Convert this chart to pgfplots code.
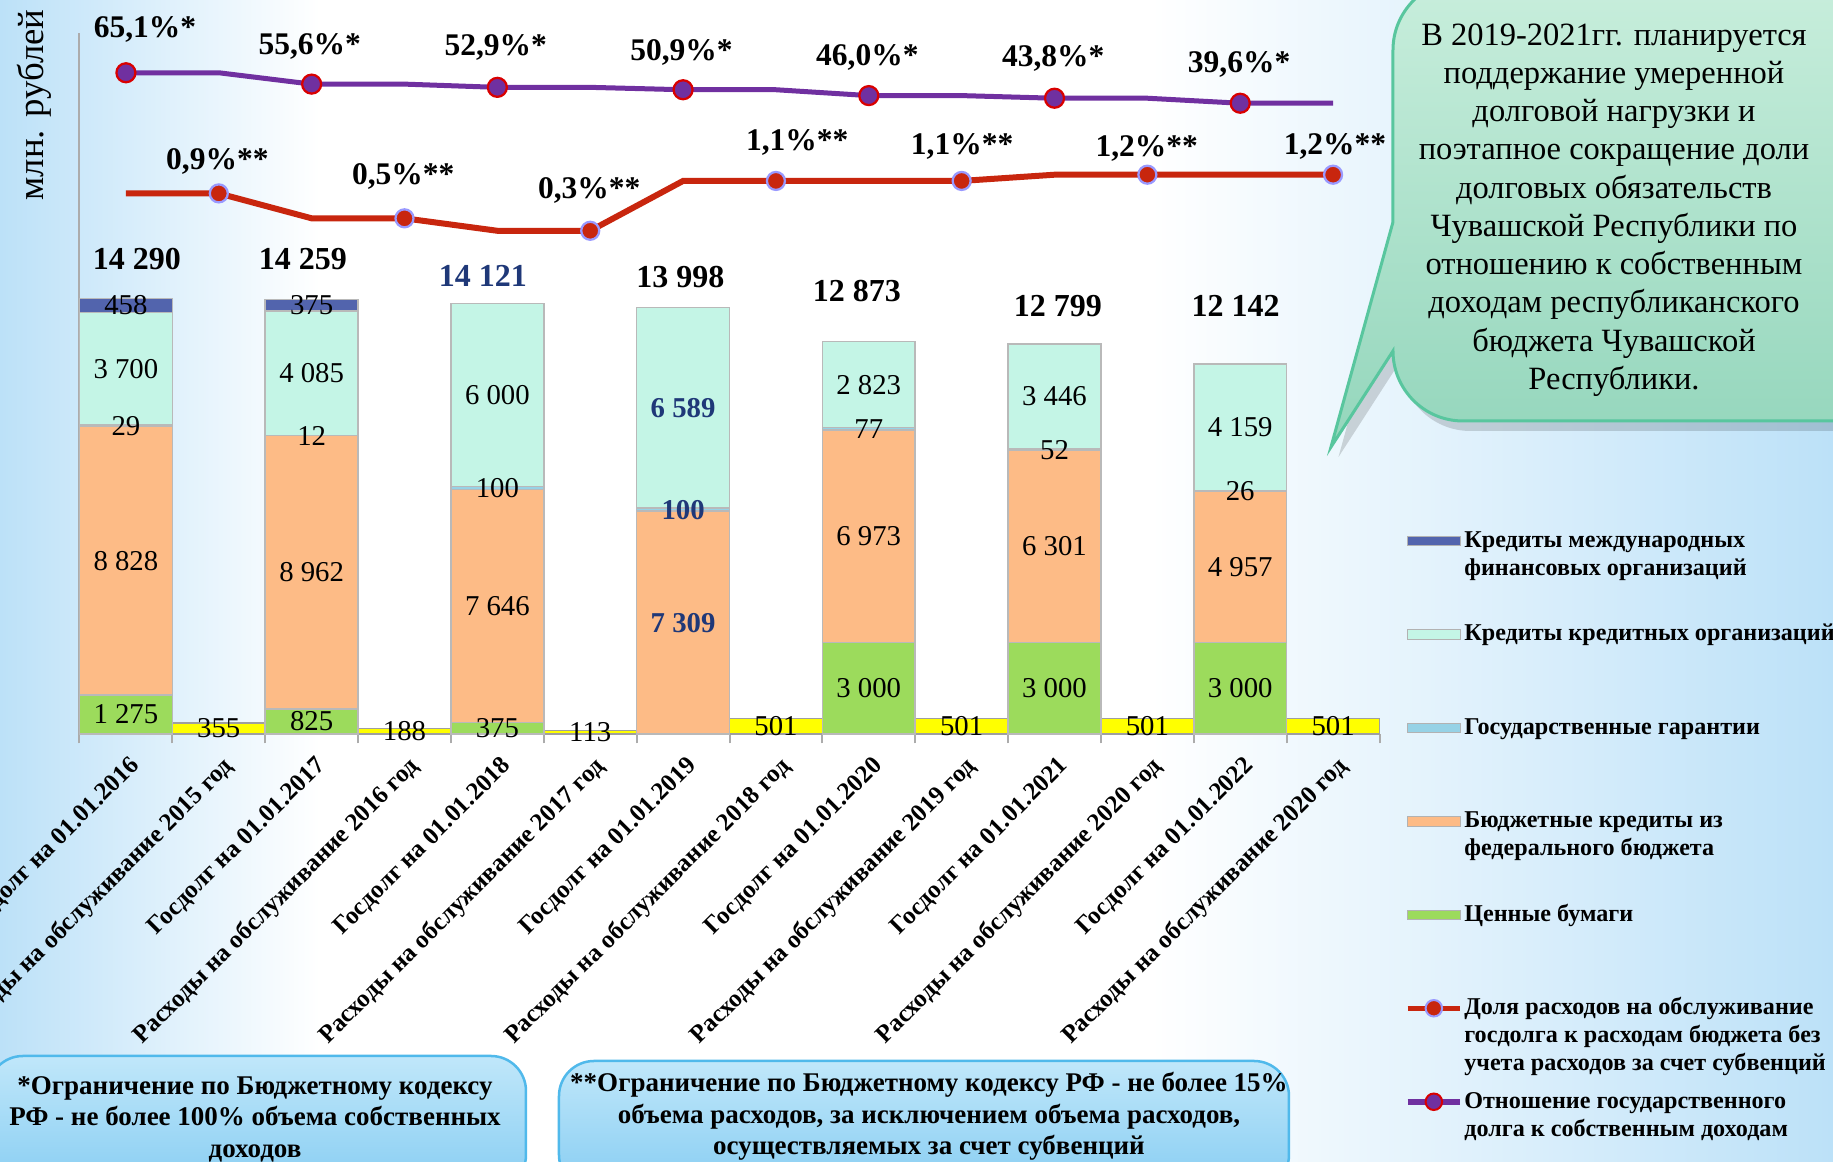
\documentclass[border=0pt]{standalone}
\usepackage{pgfplots}
\usepackage{pgfplotstable}
\pgfplotsset{compat=1.18}
\usepackage{fontspec}
\setmainfont{Liberation Serif}

\definecolor{cGreen}{RGB}{156,219,92}
\definecolor{cOrange}{RGB}{253,187,134}
\definecolor{cGuar}{RGB}{150,210,230}
\definecolor{cTeal}{RGB}{196,245,230}
\definecolor{cIntl}{RGB}{82,100,173}
\definecolor{cYellow}{RGB}{255,255,0}
\definecolor{cRed}{RGB}{200,38,14}
\definecolor{cPurple}{RGB}{112,48,160}
\definecolor{cNavy}{RGB}{31,56,120}
\definecolor{bgBlue}{RGB}{188,225,248}
\definecolor{callTop}{RGB}{200,238,220}
\definecolor{callBot}{RGB}{148,214,188}
\definecolor{callEdge}{RGB}{88,198,158}
\definecolor{noteTop}{RGB}{192,231,250}
\definecolor{noteBot}{RGB}{135,205,242}
\definecolor{noteEdge}{RGB}{80,185,235}

% debt structure (mln rub): even x = Госдолг, odd x = Расходы на обслуживание
\pgfplotstableread{
x  sb   bk   gg   ko   mf   rs
0  1275 8828 29   3700 458  0
1  0    0    0    0    0    355
2  825  8962 12   4085 375  0
3  0    0    0    0    0    188
4  375  7646 100  6000 0    0
5  0    0    0    0    0    113
6  0    7309 100  6589 0    0
7  0    0    0    0    0    501
8  3000 6973 77   2823 0    0
9  0    0    0    0    0    501
10 3000 6301 52   3446 0    0
11 0    0    0    0    0    501
12 3000 4957 26   4159 0    0
13 0    0    0    0    0    501
}\debt

% ratios, %
\pgfplotstableread{
x  dolya otn
0  0.9   65.1
1  0.9   65.1
2  0.5   55.6
3  0.5   55.6
4  0.3   52.9
5  0.3   52.9
6  1.1   50.9
7  1.1   50.9
8  1.1   46.0
9  1.1   46.0
10 1.2   43.8
11 1.2   43.8
12 1.2   39.6
13 1.2   39.6
}\ratios

\pgfplotsset{
  base/.style={scale only axis, width=520pt, height=280.4pt,
    at={(31.8pt,-293.6pt)}, anchor=south west,
    xmin=-0.5, xmax=13.5, clip=false},
  seg/.style={fill=#1, draw=gray!55, line width=0.6pt, forget plot},
  barleg/.style={legend image code/.code={\draw[##1] (0pt,0.6pt) rectangle (21pt,4.4pt);}},
  lineleg/.style={legend image code/.code={%
      \draw[##1,mark=none] (0pt,2.5pt) -- (21pt,2.5pt);
      \draw[##1,sharp plot] plot coordinates {(10.5pt,2.5pt)};}},
}
\newcommand\LegBox[1]{\vtop{#1}}
\newcommand\fBar{\fontsize{11.5}{13}\selectfont}
\newcommand\fTot{\bfseries\fontsize{12.8}{14}\selectfont}
\newcommand\fPct{\bfseries\fontsize{12.6}{14}\selectfont}
\newcommand\lab[3]{\node[font=\fBar] at (axis cs:#1,#2) {#3};}
\newcommand\blab[3]{\node[font=\fBar\bfseries, text=cNavy] at (axis cs:#1,#2) {#3};}
\newcommand\callpath{(1393,222) -- (1331,447) -- (1393,351)
  arc[start angle=180, end angle=90, radius=70] -- (1880,421) -- (1880,-20)
  -- (1463,-20) arc[start angle=270, end angle=180, radius=70] -- cycle}

\begin{document}
\begin{tikzpicture}
\useasboundingbox (0,0) rectangle (733.2pt,-464.8pt);

\begin{scope}[x=0.4pt,y=-0.4pt]
  \fill[white] (0,0) rectangle (1833,1162);
  \shade[left color=bgBlue, right color=white] (0,0) rectangle (320,1162);
  \shade[left color=white, right color=bgBlue] (1150,0) rectangle (1833,1162);
  % callout
  \fill[black, opacity=0.15, xshift=3pt, yshift=-4pt] \callpath;
  \shade[top color=callTop, bottom color=callBot] \callpath;
  \draw[callEdge, line width=1.2pt] \callpath;
  % footnote boxes
  \draw[noteEdge, line width=1pt, rounded corners=14pt, top color=noteTop, bottom color=noteBot]
    (-12,1056) rectangle (526,1190);
  \draw[noteEdge, line width=1pt, rounded corners=14pt, top color=noteTop, bottom color=noteBot]
    (559,1061) rectangle (1289,1190);
\end{scope}

\begin{axis}[base, ymin=0, ymax=23000,
  ybar stacked, bar width=37.14pt,
  axis x line*=bottom, axis y line*=left,
  axis line style={draw=gray!65, line width=0.8pt, -},
  ytick=\empty,
  xtick={0,...,13},
  xticklabels={Госдолг на 01.01.2016, Расходы на обслуживание 2015 год,
    Госдолг на 01.01.2017, Расходы на обслуживание 2016 год,
    Госдолг на 01.01.2018, Расходы на обслуживание 2017 год,
    Госдолг на 01.01.2019, Расходы на обслуживание 2018 год,
    Госдолг на 01.01.2020, Расходы на обслуживание 2019 год,
    Госдолг на 01.01.2021, Расходы на обслуживание 2020 год,
    Госдолг на 01.01.2022, Расходы на обслуживание 2020 год},
  major tick length=0pt,
  minor xtick={-0.5,0.5,...,13.5},
  minor tick length=3.7pt,
  xtick align=outside,
  minor tick style={draw=gray!65, line width=0.8pt},
  x tick label style={font=\bfseries\fontsize{10}{12}\selectfont,
    anchor=north east, inner sep=0pt, xshift=1pt, yshift=-8pt, rotate=45},
  legend style={at={(1.0195,0.2953)}, anchor=north west, draw=none, fill=none,
    inner sep=0pt, outer sep=0pt, row sep=0pt,
    font=\bfseries\fontsize{9.65}{11.2}\selectfont,
    cells={anchor=base west},
    nodes={inner xsep=0.6pt, inner ysep=0pt, text height=8pt, text depth=29.4pt}},
]
\addplot[seg=cGreen]  table[x=x,y=sb]{\debt};
\addplot[seg=cOrange] table[x=x,y=bk]{\debt};
\addplot[seg=cGuar]   table[x=x,y=gg]{\debt};
\addplot[seg=cTeal]   table[x=x,y=ko]{\debt};
\addplot[seg=cIntl]   table[x=x,y=mf]{\debt};
\addplot[seg=cYellow, draw=gray!75] table[x=x,y=rs]{\debt};

\addlegendimage{barleg, fill=cIntl, draw=gray!60}
\addlegendentry{\LegBox{\hbox{Кредиты международных}\hbox{финансовых организаций}}}
\addlegendimage{barleg, fill=cTeal, draw=gray!60}
\addlegendentry{\LegBox{\hbox{Кредиты кредитных организаций}}}
\addlegendimage{barleg, fill=cGuar, draw=gray!60}
\addlegendentry{\LegBox{\hbox{Государственные гарантии}}}
\addlegendimage{barleg, fill=cOrange, draw=gray!60}
\addlegendentry{\LegBox{\hbox{Бюджетные кредиты из}\hbox{федерального бюджета}}}
\addlegendimage{barleg, fill=cGreen, draw=gray!60}
\addlegendentry{\LegBox{\hbox{Ценные бумаги}}}
\addlegendimage{lineleg, cRed, line width=2.2pt, mark=*, mark size=3.3pt,
  mark options={fill=cRed, draw=blue!40, line width=0.8pt}}
\addlegendentry{\LegBox{\hbox{Доля расходов на обслуживание}\hbox{госдолга к расходам бюджета без}\hbox{учета расходов за счет субвенций}}}
\addlegendimage{lineleg, cPurple, line width=2.2pt, mark=*, mark size=3.3pt,
  mark options={fill=cPurple, draw=red!85!black, line width=0.8pt}}
\addlegendentry{\LegBox{\hbox{Отношение государственного}\hbox{долга к собственным доходам}}}
\end{axis}

% segment labels at segment middles (overlay axis, same scale)
\begin{axis}[base, hide axis, ymin=0, ymax=23000]
\lab{0}{637.5}{1 275}\lab{0}{5689}{8 828}\lab{0}{10117}{29}\lab{0}{11982}{3 700}\lab{0}{14061}{458}
\lab{1}{177}{355}
\lab{2}{412}{825}\lab{2}{5306}{8 962}\lab{2}{9793}{12}\lab{2}{11841}{4 085}\lab{2}{14071}{375}
\lab{3}{94}{188}
\lab{4}{187}{375}\lab{4}{4198}{7 646}\lab{4}{8071}{100}\lab{4}{11121}{6 000}
\lab{5}{60}{113}
\blab{6}{3654}{7 309}\blab{6}{7359}{100}\blab{6}{10703}{6 589}
\lab{7}{250}{501}
\lab{8}{1500}{3 000}\lab{8}{6486}{6 973}\lab{8}{10011}{77}\lab{8}{11461}{2 823}
\lab{9}{250}{501}
\lab{10}{1500}{3 000}\lab{10}{6150}{6 301}\lab{10}{9327}{52}\lab{10}{11076}{3 446}
\lab{11}{250}{501}
\lab{12}{1500}{3 000}\lab{12}{5478}{4 957}\lab{12}{7970}{26}\lab{12}{10062}{4 159}
\lab{13}{250}{501}
\end{axis}

% debt to own revenues
\begin{axis}[base, hide axis, ymin=-488.2, ymax=98.4]
\addplot[cPurple, line width=2pt, mark=*, mark indices={1,3,5,7,9,11,13}, mark size=3.8pt,
  mark options={fill=cPurple, draw=red!85!black, line width=0.9pt, solid}]
  table[x=x,y=otn]{\ratios};
\end{axis}

% debt service share
\begin{axis}[base, hide axis, ymin=-7.777, ymax=3.475]
\addplot[cRed, line width=2.4pt, mark=*, mark indices={2,4,6,8,10,12,14}, mark size=3.6pt,
  mark options={fill=cRed, draw=blue!40, line width=0.9pt, solid}]
  table[x=x,y=dolya]{\ratios};
\end{axis}

\begin{scope}[x=0.4pt,y=-0.4pt]
  \node[rotate=90, font=\fontsize{14.7}{16}\selectfont] at (34,105) {млн. рублей};
  % totals
  \node[font=\fTot] at (136.8,259.5) {14 290};
  \node[font=\fTot] at (302.8,259.5) {14 259};
  \node[font=\fTot, text=cNavy] at (482.8,275.9) {14 121};
  \node[font=\fTot] at (680.4,277.1) {13 998};
  \node[font=\fTot] at (856.9,291.1) {12 873};
  \node[font=\fTot] at (1058,306.3) {12 799};
  \node[font=\fTot] at (1235.6,306.3) {12 142};
  % ratio labels
  \node[font=\fPct] at (145,29.2) {65,1\%*};
  \node[font=\fPct] at (309.8,46.8) {55,6\%*};
  \node[font=\fPct] at (495.7,47.9) {52,9\%*};
  \node[font=\fPct] at (681.5,52.6) {50,9\%*};
  \node[font=\fPct] at (867.4,57.3) {46,0\%*};
  \node[font=\fPct] at (1053.3,58.5) {43,8\%*};
  \node[font=\fPct] at (1239.1,64.3) {39,6\%*};
  \node[font=\fPct] at (217.4,161.3) {0,9\%**};
  \node[font=\fPct] at (403.3,176.5) {0,5\%**};
  \node[font=\fPct] at (589.2,190.5) {0,3\%**};
  \node[font=\fPct] at (797.3,142.6) {1,1\%**};
  \node[font=\fPct] at (962.1,146.1) {1,1\%**};
  \node[font=\fPct] at (1146.8,148.5) {1,2\%**};
  \node[font=\fPct] at (1335,146.1) {1,2\%**};
  % callout text
  \node[anchor=north, inner sep=0pt, align=center, font=\fontsize{13}{15.3}\selectfont] at (1614,23)
    {В 2019-2021гг. планируется\\поддержание умеренной\\долговой нагрузки и\\поэтапное сокращение доли\\долговых обязательств\\Чувашской Республики по\\отношению к собственным\\доходам республиканского\\бюджета Чувашской\\Республики.};
  % footnotes
  \node[anchor=north, inner sep=0pt, align=center, font=\bfseries\fontsize{10.8}{12.6}\selectfont] at (255,1076)
    {*Ограничение по Бюджетному кодексу\\РФ - не более 100\% объема собственных\\доходов};
  \node[anchor=north, inner sep=0pt, align=center, font=\bfseries\fontsize{10.8}{12.6}\selectfont] at (929,1072)
    {**Ограничение по Бюджетному кодексу РФ - не более 15\%\\объема расходов, за исключением объема расходов,\\осуществляемых за счет субвенций};
\end{scope}
\end{tikzpicture}
\end{document}
